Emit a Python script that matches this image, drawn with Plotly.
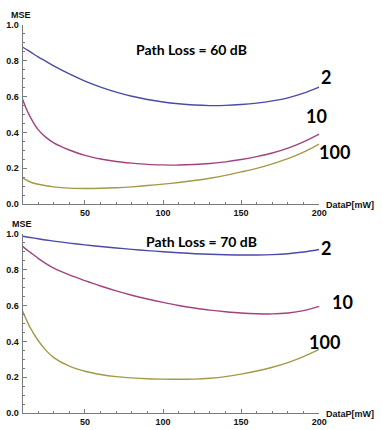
import plotly.graph_objects as go

# Transmit power sweep (mW)
data_p = [10, 12, 15, 20, 25, 30, 40, 50, 60, 70, 80, 90, 100,
          110, 120, 130, 140, 150, 160, 170, 180, 190, 200]

# Path loss = 60 dB
mse_60_n2 = [0.875, 0.864, 0.848, 0.820, 0.795, 0.770, 0.725, 0.685, 0.652, 0.624, 0.601, 0.583,
             0.569, 0.559, 0.552, 0.549, 0.550, 0.555, 0.563, 0.575, 0.592, 0.618, 0.652]
mse_60_n10 = [0.585, 0.540, 0.485, 0.415, 0.372, 0.342, 0.302, 0.272, 0.252, 0.238, 0.229, 0.222,
              0.219, 0.218, 0.221, 0.227, 0.236, 0.249, 0.265, 0.285, 0.312, 0.347, 0.390]
mse_60_n100 = [0.148, 0.137, 0.124, 0.111, 0.103, 0.097, 0.090, 0.088, 0.089, 0.092, 0.097, 0.104,
               0.112, 0.121, 0.132, 0.145, 0.161, 0.180, 0.200, 0.225, 0.254, 0.290, 0.335]

# Path loss = 70 dB
mse_70_n2 = [0.985, 0.982, 0.978, 0.971, 0.964, 0.958, 0.947, 0.937, 0.928, 0.920, 0.912, 0.905,
             0.899, 0.893, 0.888, 0.885, 0.882, 0.881, 0.881, 0.883, 0.888, 0.897, 0.911]
mse_70_n10 = [0.930, 0.915, 0.895, 0.862, 0.833, 0.808, 0.770, 0.738, 0.708, 0.681, 0.657, 0.636,
              0.617, 0.600, 0.586, 0.574, 0.565, 0.558, 0.554, 0.553, 0.558, 0.571, 0.595]
mse_70_n100 = [0.570, 0.530, 0.475, 0.405, 0.350, 0.310, 0.262, 0.234, 0.216, 0.204, 0.197, 0.192,
               0.190, 0.189, 0.190, 0.195, 0.204, 0.218, 0.235, 0.256, 0.282, 0.315, 0.355]

series_labels = ["2", "10", "100"]
colors = ["#4b4ba6", "#a3437d", "#a39a48"]

W, H = 382, 430
fig = go.Figure()

panels = [
    ("x", "y", [mse_60_n2, mse_60_n10, mse_60_n100]),
    ("x2", "y2", [mse_70_n2, mse_70_n10, mse_70_n100]),
]
for xa, ya, curves in panels:
    for vals, name, col in zip(curves, series_labels, colors):
        fig.add_trace(go.Scatter(x=data_p, y=vals, mode="lines", name=name,
                                 line=dict(color=col, width=1.4, shape="spline", smoothing=0.8),
                                 xaxis=xa, yaxis=ya, showlegend=False, hoverinfo="skip"))


def px(x):
    return x / W


def py(y):
    return 1 - y / H


axis_gray = "#7a7a7a"
tick_font = dict(family="Liberation Sans", size=9, color="#111111", weight="bold")
x_dom = [px(23), px(326)]

xaxis_common = dict(range=[10, 200], domain=x_dom, showline=True, linecolor=axis_gray,
                    linewidth=1, ticks="inside", ticklen=4, tickcolor=axis_gray,
                    tickvals=[50, 100, 150, 200], tickfont=tick_font, showgrid=False,
                    zeroline=False, ticklabelstandoff=0,
                    minor=dict(ticks="inside", ticklen=2, tickcolor=axis_gray, dtick=10,
                               tick0=0, showgrid=False))
yaxis_common = dict(range=[0, 1], showline=True, linecolor=axis_gray, linewidth=1,
                    ticks="inside", ticklen=4, tickcolor=axis_gray,
                    tickvals=[0, 0.2, 0.4, 0.6, 0.8, 1.0],
                    ticktext=["0.0", "0.2", "0.4", "0.6", "0.8", "1.0"],
                    tickfont=tick_font, showgrid=False, zeroline=False, ticklabelstandoff=1,
                    minor=dict(ticks="inside", ticklen=2, tickcolor=axis_gray, dtick=0.05,
                               tick0=0, showgrid=False))

fig.update_layout(
    width=W, height=H, margin=dict(l=0, r=0, t=0, b=0),
    paper_bgcolor="white", plot_bgcolor="white",
    xaxis=dict(xaxis_common, anchor="y"),
    yaxis=dict(yaxis_common, domain=[py(204), py(20)], anchor="x"),
    xaxis2=dict(xaxis_common, anchor="y2"),
    yaxis2=dict(yaxis_common, domain=[py(418), py(234)], anchor="x2"),
)

ann = []
axis_font = dict(family="Liberation Sans", size=9, color="#111111", weight="bold")
for (mx, my), (dx, dy) in [((21, 10), (357, 205)), ((22, 224), (357, 419))]:
    ann.append(dict(text="MSE", x=px(mx), y=py(my), font=axis_font))
    ann.append(dict(text="DataP[mW]", x=px(dx), y=py(dy), font=axis_font))

title_font = dict(family="Lato", size=14, color="black", weight="bold")
ann.append(dict(text="Path Loss = 60 dB", x=px(196), y=py(46), font=title_font))
ann.append(dict(text="Path Loss = 70 dB", x=px(206), y=py(242), font=title_font))

num_font = dict(family="Lato", size=18, color="black", weight="bold")
label_pos = [
    [(333, 74), (323, 114), (342, 151)],
    [(333, 249), (350, 304), (331, 345)],
]
for row in label_pos:
    for (lx, ly), name in zip(row, series_labels):
        ann.append(dict(text=name, x=px(lx), y=py(ly), font=num_font))

for a in ann:
    a.update(xref="paper", yref="paper", showarrow=False, xanchor="center", yanchor="middle")
fig.update_layout(annotations=ann)

fig.write_html("out.html")
